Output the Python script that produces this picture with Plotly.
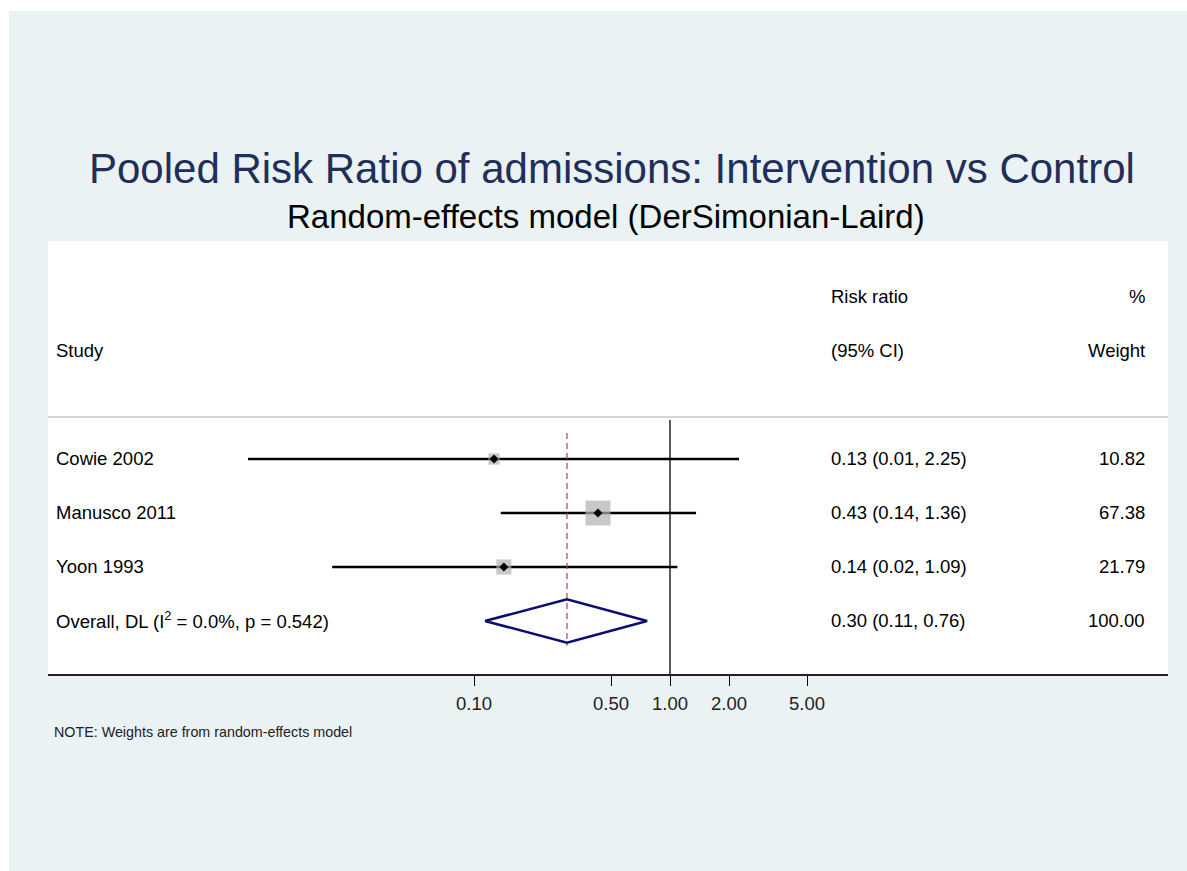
import math
import plotly.graph_objects as go

# Study-level estimates (risk ratio, 95% CI) and random-effects weights
studies = ["Cowie 2002", "Manusco 2011", "Yoon 1993"]
rr = [0.1265, 0.429, 0.142]
ci_low = [0.00703, 0.137, 0.0189]
ci_high = [2.25, 1.358, 1.09]
weights = [10.82, 67.38, 21.79]

# Pooled DerSimonian-Laird estimate
overall_label = "Overall, DL (I<sup>2</sup> = 0.0%, p = 0.542)"
overall_rr = 0.298
overall_low = 0.1138
overall_high = 0.764
overall_weight = 100.00

tick_vals = [0.1, 0.5, 1, 2, 5]
tick_text = ["0.10", "0.50", "1.00", "2.00", "5.00"]

study_rows = [4, 3, 2]
overall_row = 1

FONT = "Arial, Liberation Sans, sans-serif"
W, H = 1187, 871
L, R, T, B = 48, 19, 241, 197
plot_w = W - L - R
plot_h = H - T - B


def px(p):
    """paper x fraction for a pixel column"""
    return (p - L) / plot_w


def py(p):
    """paper y fraction for a pixel row"""
    return (H - B - p) / plot_h


fig = go.Figure()

# Confidence interval lines
for y, lo, hi in zip(study_rows, ci_low, ci_high):
    fig.add_trace(go.Scatter(x=[lo, hi], y=[y, y], mode="lines",
                             line=dict(color="black", width=2.6),
                             hoverinfo="skip", showlegend=False))

# Weight boxes (grow with study weight)
fig.add_trace(go.Scatter(
    x=rr, y=study_rows, mode="markers",
    marker=dict(symbol="square", color="#b0b0b0",
                size=[2 + 2.8 * math.sqrt(w) for w in weights],
                line=dict(width=0)),
    showlegend=False, hoverinfo="skip"))

# Point estimates
fig.add_trace(go.Scatter(
    x=rr, y=study_rows, mode="markers",
    marker=dict(symbol="diamond", color="black", size=7),
    showlegend=False, hoverinfo="skip"))

# Line of no effect
fig.add_trace(go.Scatter(x=[1, 1], y=[4.72, 0.0185], mode="lines",
                         line=dict(color="black", width=1.3),
                         showlegend=False, hoverinfo="skip"))

# Pooled estimate reference line
fig.add_trace(go.Scatter(x=[overall_rr, overall_rr], y=[4.48, 0.54], mode="lines",
                         line=dict(color="#b0414f", width=1.2, dash="6px,4px"),
                         showlegend=False, hoverinfo="skip"))

# Pooled diamond
h = 0.4
fig.add_trace(go.Scatter(
    x=[overall_low, overall_rr, overall_high, overall_rr, overall_low],
    y=[overall_row, overall_row + h, overall_row, overall_row - h, overall_row],
    mode="lines", line=dict(color="#0c0c72", width=2.5),
    showlegend=False, hoverinfo="skip"))

ann = []


def txt(text, x, y, anchor="left", size=18.5, color="black", yref="y", yshift=1):
    ann.append(dict(text=text, x=x, y=y, xref="paper", yref=yref, showarrow=False,
                    xanchor=anchor, yanchor="middle", yshift=yshift,
                    font=dict(family=FONT, size=size, color=color)))


COL_STUDY = px(54)
COL_CI = px(829)
COL_W = px(1147)

# Column headers
txt("Study", COL_STUDY, 6)
txt("Risk ratio", COL_CI, 7)
txt("(95% CI)", COL_CI, 6)
txt("%", COL_W, 7, anchor="right")
txt("Weight", COL_W, 6, anchor="right")

# Study rows
for name, y, r_, lo, hi, w in zip(studies, study_rows, rr, ci_low, ci_high, weights):
    txt(name, COL_STUDY, y)
    txt(f"{r_:.2f} ({lo:.2f}, {hi:.2f})", COL_CI, y)
    txt(f"{w:.2f}", COL_W, y, anchor="right")

txt(overall_label, COL_STUDY, overall_row)
txt(f"{overall_rr:.2f} ({overall_low:.2f}, {overall_high:.2f})", COL_CI, overall_row)
txt(f"{overall_weight:.2f}", COL_W, overall_row, anchor="right")

# Titles and note
txt("Pooled Risk Ratio of admissions: Intervention vs Control", px(612), py(169),
    anchor="center", size=42, color="#1f2f5a", yref="paper", yshift=0)
txt("Random-effects model (DerSimonian-Laird)", px(606), py(217),
    anchor="center", size=33, yref="paper", yshift=0)
txt("NOTE: Weights are from random-effects model", px(52), py(732),
    size=14.3, color="#222222", yref="paper", yshift=0)

fig.update_layout(
    width=W, height=H,
    margin=dict(l=L, r=R, t=T, b=B, pad=0),
    paper_bgcolor="#eaf2f3",
    plot_bgcolor="white",
    annotations=ann,
    shapes=[
        # header separator
        dict(type="line", xref="paper", yref="y", x0=0, x1=1, y0=4.78, y1=4.78,
             line=dict(color="#c8c8c8", width=1.5)),
        # white outer edges
        dict(type="rect", xref="paper", yref="paper", x0=px(0), x1=px(W + 5),
             y0=py(11), y1=py(-5), fillcolor="white", line=dict(width=0)),
        dict(type="rect", xref="paper", yref="paper", x0=px(-5), x1=px(9),
             y0=py(H + 5), y1=py(-5), fillcolor="white", line=dict(width=0)),
    ],
    xaxis=dict(type="log", range=[-622 / 196, 498 / 196],
               tickvals=tick_vals, ticktext=tick_text,
               ticks="outside", ticklen=10, tickwidth=1.3, tickcolor="black",
               ticklabelstandoff=2,
               showline=True, linecolor="#222222", linewidth=1.6,
               showgrid=False, zeroline=False,
               tickfont=dict(family=FONT, size=18.5, color="#222222")),
    yaxis=dict(range=[0.0185, 0.0185 + 433 / 54], visible=False,
               showgrid=False, zeroline=False),
    font=dict(family=FONT),
)

fig.write_html("out.html")
